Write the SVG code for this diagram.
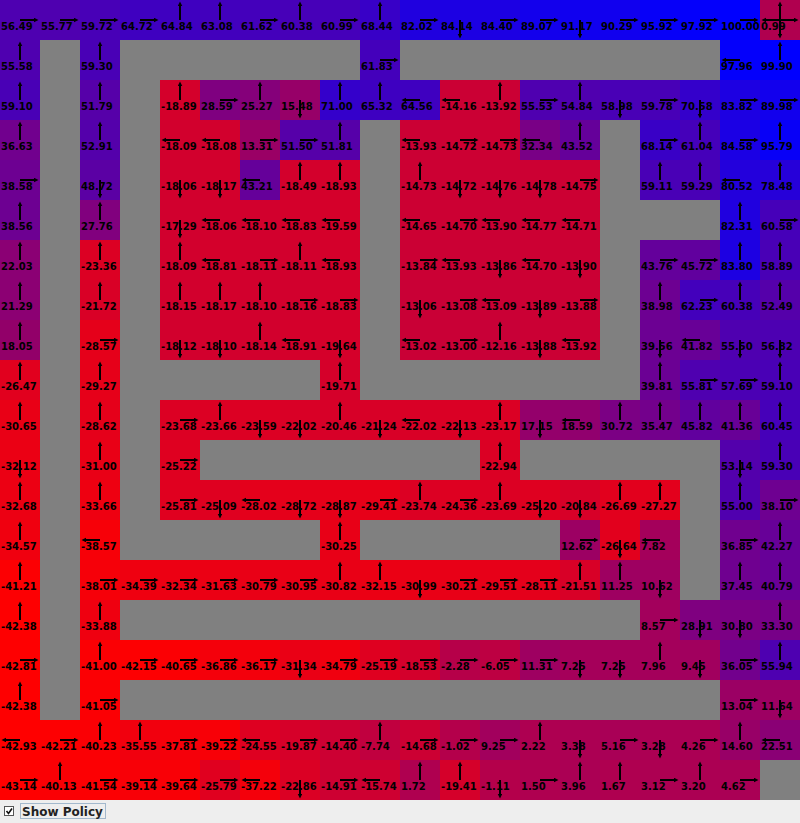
<svg xmlns="http://www.w3.org/2000/svg" width="800" height="823" viewBox="0 0 800 823">
<style>
.cells text{font-family:"DejaVu Sans","Liberation Sans",sans-serif;font-weight:bold;font-size:10px;fill:#000}
.cells rect{width:40px;height:40px}
.pol path{fill:none;stroke:#000;stroke-width:2;marker-end:url(#ah)}
.lbl{font-family:"DejaVu Sans","Liberation Sans",sans-serif;font-weight:bold;font-size:12px;fill:#222}
</style>
<defs>
<marker id="ah" markerUnits="userSpaceOnUse" markerWidth="5" markerHeight="5" refX="0" refY="2.25" orient="auto"><path d="M0,0L4.5,2.25L0,4.5z" fill="#000"/></marker>
</defs>
<rect id="walls" x="0" y="0" width="800" height="800" fill="#808080"/>
<g class="cells">
<g id="r0c0"><rect x="0" y="0" width="40" height="40" fill="#4e00b1"/><text x="1" y="30">56.49</text></g>
<g id="r0c1"><rect x="40" y="0" width="40" height="40" fill="#4f00b0"/><text x="41" y="30">55.77</text></g>
<g id="r0c2"><rect x="80" y="0" width="40" height="40" fill="#4800b7"/><text x="81" y="30">59.72</text></g>
<g id="r0c3"><rect x="120" y="0" width="40" height="40" fill="#3f00c0"/><text x="121" y="30">64.72</text></g>
<g id="r0c4"><rect x="160" y="0" width="40" height="40" fill="#3f00c0"/><text x="161" y="30">64.84</text></g>
<g id="r0c5"><rect x="200" y="0" width="40" height="40" fill="#4200bd"/><text x="201" y="30">63.08</text></g>
<g id="r0c6"><rect x="240" y="0" width="40" height="40" fill="#4400bb"/><text x="241" y="30">61.62</text></g>
<g id="r0c7"><rect x="280" y="0" width="40" height="40" fill="#4700b8"/><text x="281" y="30">60.38</text></g>
<g id="r0c8"><rect x="320" y="0" width="40" height="40" fill="#4500ba"/><text x="321" y="30">60.99</text></g>
<g id="r0c9"><rect x="360" y="0" width="40" height="40" fill="#3800c7"/><text x="361" y="30">68.44</text></g>
<g id="r0c10"><rect x="400" y="0" width="40" height="40" fill="#2000df"/><text x="401" y="30">82.02</text></g>
<g id="r0c11"><rect x="440" y="0" width="40" height="40" fill="#1c00e3"/><text x="441" y="30">84.14</text></g>
<g id="r0c12"><rect x="480" y="0" width="40" height="40" fill="#1c00e3"/><text x="481" y="30">84.40</text></g>
<g id="r0c13"><rect x="520" y="0" width="40" height="40" fill="#1300ec"/><text x="521" y="30">89.07</text></g>
<g id="r0c14"><rect x="560" y="0" width="40" height="40" fill="#1000ef"/><text x="561" y="30">91.17</text></g>
<g id="r0c15"><rect x="600" y="0" width="40" height="40" fill="#1100ee"/><text x="601" y="30">90.29</text></g>
<g id="r0c16"><rect x="640" y="0" width="40" height="40" fill="#0700f8"/><text x="641" y="30">95.92</text></g>
<g id="r0c17"><rect x="680" y="0" width="40" height="40" fill="#0400fb"/><text x="681" y="30">97.92</text></g>
<g id="r0c18"><rect x="720" y="0" width="40" height="40" fill="#0000ff"/><text x="721" y="30">100.00</text></g>
<g id="r0c19"><rect x="760" y="0" width="40" height="40" fill="#b0004f"/><text x="761" y="30">0.99</text></g>
<g id="r1c0"><rect x="0" y="40" width="40" height="40" fill="#4f00b0"/><text x="1" y="70">55.58</text></g>
<g id="r1c2"><rect x="80" y="40" width="40" height="40" fill="#4900b6"/><text x="81" y="70">59.30</text></g>
<g id="r1c9"><rect x="360" y="40" width="40" height="40" fill="#4400bb"/><text x="361" y="70">61.83</text></g>
<g id="r1c18"><rect x="720" y="40" width="40" height="40" fill="#0400fb"/><text x="721" y="70">97.96</text></g>
<g id="r1c19"><rect x="760" y="40" width="40" height="40" fill="#0000ff"/><text x="761" y="70">99.90</text></g>
<g id="r2c0"><rect x="0" y="80" width="40" height="40" fill="#4900b6"/><text x="1" y="110">59.10</text></g>
<g id="r2c2"><rect x="80" y="80" width="40" height="40" fill="#5600a9"/><text x="81" y="110">51.79</text></g>
<g id="r2c4"><rect x="160" y="80" width="40" height="40" fill="#d4002b"/><text x="161" y="110">-18.89</text></g>
<g id="r2c5"><rect x="200" y="80" width="40" height="40" fill="#7f0080"/><text x="201" y="110">28.59</text></g>
<g id="r2c6"><rect x="240" y="80" width="40" height="40" fill="#85007a"/><text x="241" y="110">25.27</text></g>
<g id="r2c7"><rect x="280" y="80" width="40" height="40" fill="#970068"/><text x="281" y="110">15.48</text></g>
<g id="r2c8"><rect x="320" y="80" width="40" height="40" fill="#3400cb"/><text x="321" y="110">71.00</text></g>
<g id="r2c9"><rect x="360" y="80" width="40" height="40" fill="#3e00c1"/><text x="361" y="110">65.32</text></g>
<g id="r2c10"><rect x="400" y="80" width="40" height="40" fill="#3f00c0"/><text x="401" y="110">64.56</text></g>
<g id="r2c11"><rect x="440" y="80" width="40" height="40" fill="#cb0034"/><text x="441" y="110">-14.16</text></g>
<g id="r2c12"><rect x="480" y="80" width="40" height="40" fill="#cb0034"/><text x="481" y="110">-13.92</text></g>
<g id="r2c13"><rect x="520" y="80" width="40" height="40" fill="#4f00b0"/><text x="521" y="110">55.53</text></g>
<g id="r2c14"><rect x="560" y="80" width="40" height="40" fill="#5000af"/><text x="561" y="110">54.84</text></g>
<g id="r2c15"><rect x="600" y="80" width="40" height="40" fill="#4900b6"/><text x="601" y="110">58.98</text></g>
<g id="r2c16"><rect x="640" y="80" width="40" height="40" fill="#4800b7"/><text x="641" y="110">59.78</text></g>
<g id="r2c17"><rect x="680" y="80" width="40" height="40" fill="#3400cb"/><text x="681" y="110">70.58</text></g>
<g id="r2c18"><rect x="720" y="80" width="40" height="40" fill="#1d00e2"/><text x="721" y="110">83.82</text></g>
<g id="r2c19"><rect x="760" y="80" width="40" height="40" fill="#1200ed"/><text x="761" y="110">89.98</text></g>
<g id="r3c0"><rect x="0" y="120" width="40" height="40" fill="#71008e"/><text x="1" y="150">36.63</text></g>
<g id="r3c2"><rect x="80" y="120" width="40" height="40" fill="#5400ab"/><text x="81" y="150">52.91</text></g>
<g id="r3c4"><rect x="160" y="120" width="40" height="40" fill="#d2002d"/><text x="161" y="150">-18.09</text></g>
<g id="r3c5"><rect x="200" y="120" width="40" height="40" fill="#d2002d"/><text x="201" y="150">-18.08</text></g>
<g id="r3c6"><rect x="240" y="120" width="40" height="40" fill="#9a0065"/><text x="241" y="150">13.31</text></g>
<g id="r3c7"><rect x="280" y="120" width="40" height="40" fill="#5600a9"/><text x="281" y="150">51.50</text></g>
<g id="r3c8"><rect x="320" y="120" width="40" height="40" fill="#5600a9"/><text x="321" y="150">51.81</text></g>
<g id="r3c10"><rect x="400" y="120" width="40" height="40" fill="#cb0034"/><text x="401" y="150">-13.93</text></g>
<g id="r3c11"><rect x="440" y="120" width="40" height="40" fill="#cc0033"/><text x="441" y="150">-14.72</text></g>
<g id="r3c12"><rect x="480" y="120" width="40" height="40" fill="#cc0033"/><text x="481" y="150">-14.73</text></g>
<g id="r3c13"><rect x="520" y="120" width="40" height="40" fill="#790086"/><text x="521" y="150">32.34</text></g>
<g id="r3c14"><rect x="560" y="120" width="40" height="40" fill="#65009a"/><text x="561" y="150">43.52</text></g>
<g id="r3c16"><rect x="640" y="120" width="40" height="40" fill="#3900c6"/><text x="641" y="150">68.14</text></g>
<g id="r3c17"><rect x="680" y="120" width="40" height="40" fill="#4500ba"/><text x="681" y="150">61.04</text></g>
<g id="r3c18"><rect x="720" y="120" width="40" height="40" fill="#1b00e4"/><text x="721" y="150">84.58</text></g>
<g id="r3c19"><rect x="760" y="120" width="40" height="40" fill="#0800f7"/><text x="761" y="150">95.79</text></g>
<g id="r4c0"><rect x="0" y="160" width="40" height="40" fill="#6d0092"/><text x="1" y="190">38.58</text></g>
<g id="r4c2"><rect x="80" y="160" width="40" height="40" fill="#5b00a4"/><text x="81" y="190">48.72</text></g>
<g id="r4c4"><rect x="160" y="160" width="40" height="40" fill="#d2002d"/><text x="161" y="190">-18.06</text></g>
<g id="r4c5"><rect x="200" y="160" width="40" height="40" fill="#d3002c"/><text x="201" y="190">-18.17</text></g>
<g id="r4c6"><rect x="240" y="160" width="40" height="40" fill="#65009a"/><text x="241" y="190">43.21</text></g>
<g id="r4c7"><rect x="280" y="160" width="40" height="40" fill="#d3002c"/><text x="281" y="190">-18.49</text></g>
<g id="r4c8"><rect x="320" y="160" width="40" height="40" fill="#d4002b"/><text x="321" y="190">-18.93</text></g>
<g id="r4c10"><rect x="400" y="160" width="40" height="40" fill="#cc0033"/><text x="401" y="190">-14.73</text></g>
<g id="r4c11"><rect x="440" y="160" width="40" height="40" fill="#cc0033"/><text x="441" y="190">-14.72</text></g>
<g id="r4c12"><rect x="480" y="160" width="40" height="40" fill="#cc0033"/><text x="481" y="190">-14.76</text></g>
<g id="r4c13"><rect x="520" y="160" width="40" height="40" fill="#cc0033"/><text x="521" y="190">-14.78</text></g>
<g id="r4c14"><rect x="560" y="160" width="40" height="40" fill="#cc0033"/><text x="561" y="190">-14.75</text></g>
<g id="r4c16"><rect x="640" y="160" width="40" height="40" fill="#4900b6"/><text x="641" y="190">59.11</text></g>
<g id="r4c17"><rect x="680" y="160" width="40" height="40" fill="#4900b6"/><text x="681" y="190">59.29</text></g>
<g id="r4c18"><rect x="720" y="160" width="40" height="40" fill="#2300dc"/><text x="721" y="190">80.52</text></g>
<g id="r4c19"><rect x="760" y="160" width="40" height="40" fill="#2600d9"/><text x="761" y="190">78.48</text></g>
<g id="r5c0"><rect x="0" y="200" width="40" height="40" fill="#6d0092"/><text x="1" y="230">38.56</text></g>
<g id="r5c2"><rect x="80" y="200" width="40" height="40" fill="#81007e"/><text x="81" y="230">27.76</text></g>
<g id="r5c4"><rect x="160" y="200" width="40" height="40" fill="#d1002e"/><text x="161" y="230">-17.29</text></g>
<g id="r5c5"><rect x="200" y="200" width="40" height="40" fill="#d2002d"/><text x="201" y="230">-18.06</text></g>
<g id="r5c6"><rect x="240" y="200" width="40" height="40" fill="#d2002d"/><text x="241" y="230">-18.10</text></g>
<g id="r5c7"><rect x="280" y="200" width="40" height="40" fill="#d4002b"/><text x="281" y="230">-18.83</text></g>
<g id="r5c8"><rect x="320" y="200" width="40" height="40" fill="#d5002a"/><text x="321" y="230">-19.59</text></g>
<g id="r5c10"><rect x="400" y="200" width="40" height="40" fill="#cc0033"/><text x="401" y="230">-14.65</text></g>
<g id="r5c11"><rect x="440" y="200" width="40" height="40" fill="#cc0033"/><text x="441" y="230">-14.70</text></g>
<g id="r5c12"><rect x="480" y="200" width="40" height="40" fill="#cb0034"/><text x="481" y="230">-13.90</text></g>
<g id="r5c13"><rect x="520" y="200" width="40" height="40" fill="#cc0033"/><text x="521" y="230">-14.77</text></g>
<g id="r5c14"><rect x="560" y="200" width="40" height="40" fill="#cc0033"/><text x="561" y="230">-14.71</text></g>
<g id="r5c18"><rect x="720" y="200" width="40" height="40" fill="#2000df"/><text x="721" y="230">82.31</text></g>
<g id="r5c19"><rect x="760" y="200" width="40" height="40" fill="#4600b9"/><text x="761" y="230">60.58</text></g>
<g id="r6c0"><rect x="0" y="240" width="40" height="40" fill="#8b0074"/><text x="1" y="270">22.03</text></g>
<g id="r6c2"><rect x="80" y="240" width="40" height="40" fill="#dc0023"/><text x="81" y="270">-23.36</text></g>
<g id="r6c4"><rect x="160" y="240" width="40" height="40" fill="#d2002d"/><text x="161" y="270">-18.09</text></g>
<g id="r6c5"><rect x="200" y="240" width="40" height="40" fill="#d4002b"/><text x="201" y="270">-18.81</text></g>
<g id="r6c6"><rect x="240" y="240" width="40" height="40" fill="#d2002d"/><text x="241" y="270">-18.11</text></g>
<g id="r6c7"><rect x="280" y="240" width="40" height="40" fill="#d2002d"/><text x="281" y="270">-18.11</text></g>
<g id="r6c8"><rect x="320" y="240" width="40" height="40" fill="#d4002b"/><text x="321" y="270">-18.93</text></g>
<g id="r6c10"><rect x="400" y="240" width="40" height="40" fill="#cb0034"/><text x="401" y="270">-13.84</text></g>
<g id="r6c11"><rect x="440" y="240" width="40" height="40" fill="#cb0034"/><text x="441" y="270">-13.93</text></g>
<g id="r6c12"><rect x="480" y="240" width="40" height="40" fill="#cb0034"/><text x="481" y="270">-13.86</text></g>
<g id="r6c13"><rect x="520" y="240" width="40" height="40" fill="#cc0033"/><text x="521" y="270">-14.70</text></g>
<g id="r6c14"><rect x="560" y="240" width="40" height="40" fill="#cb0034"/><text x="561" y="270">-13.90</text></g>
<g id="r6c16"><rect x="640" y="240" width="40" height="40" fill="#64009b"/><text x="641" y="270">43.76</text></g>
<g id="r6c17"><rect x="680" y="240" width="40" height="40" fill="#61009e"/><text x="681" y="270">45.72</text></g>
<g id="r6c18"><rect x="720" y="240" width="40" height="40" fill="#1d00e2"/><text x="721" y="270">83.80</text></g>
<g id="r6c19"><rect x="760" y="240" width="40" height="40" fill="#4900b6"/><text x="761" y="270">58.89</text></g>
<g id="r7c0"><rect x="0" y="280" width="40" height="40" fill="#8c0073"/><text x="1" y="310">21.29</text></g>
<g id="r7c2"><rect x="80" y="280" width="40" height="40" fill="#d90026"/><text x="81" y="310">-21.72</text></g>
<g id="r7c4"><rect x="160" y="280" width="40" height="40" fill="#d2002d"/><text x="161" y="310">-18.15</text></g>
<g id="r7c5"><rect x="200" y="280" width="40" height="40" fill="#d3002c"/><text x="201" y="310">-18.17</text></g>
<g id="r7c6"><rect x="240" y="280" width="40" height="40" fill="#d2002d"/><text x="241" y="310">-18.10</text></g>
<g id="r7c7"><rect x="280" y="280" width="40" height="40" fill="#d2002d"/><text x="281" y="310">-18.16</text></g>
<g id="r7c8"><rect x="320" y="280" width="40" height="40" fill="#d4002b"/><text x="321" y="310">-18.83</text></g>
<g id="r7c10"><rect x="400" y="280" width="40" height="40" fill="#c90036"/><text x="401" y="310">-13.06</text></g>
<g id="r7c11"><rect x="440" y="280" width="40" height="40" fill="#c90036"/><text x="441" y="310">-13.08</text></g>
<g id="r7c12"><rect x="480" y="280" width="40" height="40" fill="#ca0035"/><text x="481" y="310">-13.09</text></g>
<g id="r7c13"><rect x="520" y="280" width="40" height="40" fill="#cb0034"/><text x="521" y="310">-13.89</text></g>
<g id="r7c14"><rect x="560" y="280" width="40" height="40" fill="#cb0034"/><text x="561" y="310">-13.88</text></g>
<g id="r7c16"><rect x="640" y="280" width="40" height="40" fill="#6d0092"/><text x="641" y="310">38.98</text></g>
<g id="r7c17"><rect x="680" y="280" width="40" height="40" fill="#4300bc"/><text x="681" y="310">62.23</text></g>
<g id="r7c18"><rect x="720" y="280" width="40" height="40" fill="#4700b8"/><text x="721" y="310">60.38</text></g>
<g id="r7c19"><rect x="760" y="280" width="40" height="40" fill="#5500aa"/><text x="761" y="310">52.49</text></g>
<g id="r8c0"><rect x="0" y="320" width="40" height="40" fill="#920069"/><text x="1" y="350">18.05</text></g>
<g id="r8c2"><rect x="80" y="320" width="40" height="40" fill="#e5001a"/><text x="81" y="350">-28.57</text></g>
<g id="r8c4"><rect x="160" y="320" width="40" height="40" fill="#d2002d"/><text x="161" y="350">-18.12</text></g>
<g id="r8c5"><rect x="200" y="320" width="40" height="40" fill="#d2002d"/><text x="201" y="350">-18.10</text></g>
<g id="r8c6"><rect x="240" y="320" width="40" height="40" fill="#d2002d"/><text x="241" y="350">-18.14</text></g>
<g id="r8c7"><rect x="280" y="320" width="40" height="40" fill="#d4002b"/><text x="281" y="350">-18.91</text></g>
<g id="r8c8"><rect x="320" y="320" width="40" height="40" fill="#d5002a"/><text x="321" y="350">-19.64</text></g>
<g id="r8c10"><rect x="400" y="320" width="40" height="40" fill="#c90036"/><text x="401" y="350">-13.02</text></g>
<g id="r8c11"><rect x="440" y="320" width="40" height="40" fill="#c90036"/><text x="441" y="350">-13.00</text></g>
<g id="r8c12"><rect x="480" y="320" width="40" height="40" fill="#c80037"/><text x="481" y="350">-12.16</text></g>
<g id="r8c13"><rect x="520" y="320" width="40" height="40" fill="#cb0034"/><text x="521" y="350">-13.88</text></g>
<g id="r8c14"><rect x="560" y="320" width="40" height="40" fill="#cb0034"/><text x="561" y="350">-13.92</text></g>
<g id="r8c16"><rect x="640" y="320" width="40" height="40" fill="#6c0093"/><text x="641" y="350">39.56</text></g>
<g id="r8c17"><rect x="680" y="320" width="40" height="40" fill="#680097"/><text x="681" y="350">41.82</text></g>
<g id="r8c18"><rect x="720" y="320" width="40" height="40" fill="#4f00b0"/><text x="721" y="350">55.50</text></g>
<g id="r8c19"><rect x="760" y="320" width="40" height="40" fill="#4d00b2"/><text x="761" y="350">56.82</text></g>
<g id="r9c0"><rect x="0" y="360" width="40" height="40" fill="#e1001e"/><text x="1" y="390">-26.47</text></g>
<g id="r9c2"><rect x="80" y="360" width="40" height="40" fill="#e60019"/><text x="81" y="390">-29.27</text></g>
<g id="r9c8"><rect x="320" y="360" width="40" height="40" fill="#d5002a"/><text x="321" y="390">-19.71</text></g>
<g id="r9c16"><rect x="640" y="360" width="40" height="40" fill="#6b0094"/><text x="641" y="390">39.81</text></g>
<g id="r9c17"><rect x="680" y="360" width="40" height="40" fill="#4f00b0"/><text x="681" y="390">55.81</text></g>
<g id="r9c18"><rect x="720" y="360" width="40" height="40" fill="#4b00b4"/><text x="721" y="390">57.69</text></g>
<g id="r9c19"><rect x="760" y="360" width="40" height="40" fill="#4900b6"/><text x="761" y="390">59.10</text></g>
<g id="r10c0"><rect x="0" y="400" width="40" height="40" fill="#e90016"/><text x="1" y="430">-30.65</text></g>
<g id="r10c2"><rect x="80" y="400" width="40" height="40" fill="#e5001a"/><text x="81" y="430">-28.62</text></g>
<g id="r10c4"><rect x="160" y="400" width="40" height="40" fill="#dc0023"/><text x="161" y="430">-23.68</text></g>
<g id="r10c5"><rect x="200" y="400" width="40" height="40" fill="#dc0023"/><text x="201" y="430">-23.66</text></g>
<g id="r10c6"><rect x="240" y="400" width="40" height="40" fill="#dc0023"/><text x="241" y="430">-23.59</text></g>
<g id="r10c7"><rect x="280" y="400" width="40" height="40" fill="#d90026"/><text x="281" y="430">-22.02</text></g>
<g id="r10c8"><rect x="320" y="400" width="40" height="40" fill="#d70028"/><text x="321" y="430">-20.46</text></g>
<g id="r10c9"><rect x="360" y="400" width="40" height="40" fill="#d80027"/><text x="361" y="430">-21.24</text></g>
<g id="r10c10"><rect x="400" y="400" width="40" height="40" fill="#d90026"/><text x="401" y="430">-22.02</text></g>
<g id="r10c11"><rect x="440" y="400" width="40" height="40" fill="#da0025"/><text x="441" y="430">-22.13</text></g>
<g id="r10c12"><rect x="480" y="400" width="40" height="40" fill="#db0024"/><text x="481" y="430">-23.17</text></g>
<g id="r10c13"><rect x="520" y="400" width="40" height="40" fill="#94006b"/><text x="521" y="430">17.15</text></g>
<g id="r10c14"><rect x="560" y="400" width="40" height="40" fill="#91006e"/><text x="561" y="430">18.59</text></g>
<g id="r10c15"><rect x="600" y="400" width="40" height="40" fill="#7b0084"/><text x="601" y="430">30.72</text></g>
<g id="r10c16"><rect x="640" y="400" width="40" height="40" fill="#73008c"/><text x="641" y="430">35.47</text></g>
<g id="r10c17"><rect x="680" y="400" width="40" height="40" fill="#61009e"/><text x="681" y="430">45.82</text></g>
<g id="r10c18"><rect x="720" y="400" width="40" height="40" fill="#680097"/><text x="721" y="430">41.36</text></g>
<g id="r10c19"><rect x="760" y="400" width="40" height="40" fill="#4600b9"/><text x="761" y="430">60.45</text></g>
<g id="r11c0"><rect x="0" y="440" width="40" height="40" fill="#eb0014"/><text x="1" y="470">-32.12</text></g>
<g id="r11c2"><rect x="80" y="440" width="40" height="40" fill="#e90016"/><text x="81" y="470">-31.00</text></g>
<g id="r11c4"><rect x="160" y="440" width="40" height="40" fill="#df0020"/><text x="161" y="470">-25.22</text></g>
<g id="r11c12"><rect x="480" y="440" width="40" height="40" fill="#db0024"/><text x="481" y="470">-22.94</text></g>
<g id="r11c18"><rect x="720" y="440" width="40" height="40" fill="#5300ac"/><text x="721" y="470">53.14</text></g>
<g id="r11c19"><rect x="760" y="440" width="40" height="40" fill="#4900b6"/><text x="761" y="470">59.30</text></g>
<g id="r12c0"><rect x="0" y="480" width="40" height="40" fill="#ec0013"/><text x="1" y="510">-32.68</text></g>
<g id="r12c2"><rect x="80" y="480" width="40" height="40" fill="#ee0011"/><text x="81" y="510">-33.66</text></g>
<g id="r12c4"><rect x="160" y="480" width="40" height="40" fill="#e0001f"/><text x="161" y="510">-25.81</text></g>
<g id="r12c5"><rect x="200" y="480" width="40" height="40" fill="#df0020"/><text x="201" y="510">-25.09</text></g>
<g id="r12c6"><rect x="240" y="480" width="40" height="40" fill="#e4001b"/><text x="241" y="510">-28.02</text></g>
<g id="r12c7"><rect x="280" y="480" width="40" height="40" fill="#e5001a"/><text x="281" y="510">-28.72</text></g>
<g id="r12c8"><rect x="320" y="480" width="40" height="40" fill="#e60019"/><text x="321" y="510">-28.87</text></g>
<g id="r12c9"><rect x="360" y="480" width="40" height="40" fill="#e70018"/><text x="361" y="510">-29.41</text></g>
<g id="r12c10"><rect x="400" y="480" width="40" height="40" fill="#dc0023"/><text x="401" y="510">-23.74</text></g>
<g id="r12c11"><rect x="440" y="480" width="40" height="40" fill="#de0021"/><text x="441" y="510">-24.36</text></g>
<g id="r12c12"><rect x="480" y="480" width="40" height="40" fill="#dc0023"/><text x="481" y="510">-23.69</text></g>
<g id="r12c13"><rect x="520" y="480" width="40" height="40" fill="#df0020"/><text x="521" y="510">-25.20</text></g>
<g id="r12c14"><rect x="560" y="480" width="40" height="40" fill="#d70028"/><text x="561" y="510">-20.84</text></g>
<g id="r12c15"><rect x="600" y="480" width="40" height="40" fill="#e2001d"/><text x="601" y="510">-26.69</text></g>
<g id="r12c16"><rect x="640" y="480" width="40" height="40" fill="#e3001c"/><text x="641" y="510">-27.27</text></g>
<g id="r12c18"><rect x="720" y="480" width="40" height="40" fill="#5000af"/><text x="721" y="510">55.00</text></g>
<g id="r12c19"><rect x="760" y="480" width="40" height="40" fill="#6e0091"/><text x="761" y="510">38.10</text></g>
<g id="r13c0"><rect x="0" y="520" width="40" height="40" fill="#f0000f"/><text x="1" y="550">-34.57</text></g>
<g id="r13c2"><rect x="80" y="520" width="40" height="40" fill="#f70008"/><text x="81" y="550">-38.57</text></g>
<g id="r13c8"><rect x="320" y="520" width="40" height="40" fill="#e80017"/><text x="321" y="550">-30.25</text></g>
<g id="r13c14"><rect x="560" y="520" width="40" height="40" fill="#9c0063"/><text x="561" y="550">12.62</text></g>
<g id="r13c15"><rect x="600" y="520" width="40" height="40" fill="#e2001d"/><text x="601" y="550">-26.64</text></g>
<g id="r13c16"><rect x="640" y="520" width="40" height="40" fill="#a4005b"/><text x="641" y="550">7.82</text></g>
<g id="r13c18"><rect x="720" y="520" width="40" height="40" fill="#70008f"/><text x="721" y="550">36.85</text></g>
<g id="r13c19"><rect x="760" y="520" width="40" height="40" fill="#670098"/><text x="761" y="550">42.27</text></g>
<g id="r14c0"><rect x="0" y="560" width="40" height="40" fill="#fc0003"/><text x="1" y="590">-41.21</text></g>
<g id="r14c2"><rect x="80" y="560" width="40" height="40" fill="#f60009"/><text x="81" y="590">-38.01</text></g>
<g id="r14c3"><rect x="120" y="560" width="40" height="40" fill="#ef0010"/><text x="121" y="590">-34.39</text></g>
<g id="r14c4"><rect x="160" y="560" width="40" height="40" fill="#ec0013"/><text x="161" y="590">-32.34</text></g>
<g id="r14c5"><rect x="200" y="560" width="40" height="40" fill="#eb0014"/><text x="201" y="590">-31.63</text></g>
<g id="r14c6"><rect x="240" y="560" width="40" height="40" fill="#e90016"/><text x="241" y="590">-30.79</text></g>
<g id="r14c7"><rect x="280" y="560" width="40" height="40" fill="#e90016"/><text x="281" y="590">-30.95</text></g>
<g id="r14c8"><rect x="320" y="560" width="40" height="40" fill="#e90016"/><text x="321" y="590">-30.82</text></g>
<g id="r14c9"><rect x="360" y="560" width="40" height="40" fill="#eb0014"/><text x="361" y="590">-32.15</text></g>
<g id="r14c10"><rect x="400" y="560" width="40" height="40" fill="#e90016"/><text x="401" y="590">-30.99</text></g>
<g id="r14c11"><rect x="440" y="560" width="40" height="40" fill="#e80017"/><text x="441" y="590">-30.21</text></g>
<g id="r14c12"><rect x="480" y="560" width="40" height="40" fill="#e70018"/><text x="481" y="590">-29.51</text></g>
<g id="r14c13"><rect x="520" y="560" width="40" height="40" fill="#e4001b"/><text x="521" y="590">-28.11</text></g>
<g id="r14c14"><rect x="560" y="560" width="40" height="40" fill="#d80027"/><text x="561" y="590">-21.51</text></g>
<g id="r14c15"><rect x="600" y="560" width="40" height="40" fill="#9e0061"/><text x="601" y="590">11.25</text></g>
<g id="r14c16"><rect x="640" y="560" width="40" height="40" fill="#9f0060"/><text x="641" y="590">10.62</text></g>
<g id="r14c18"><rect x="720" y="560" width="40" height="40" fill="#6f0090"/><text x="721" y="590">37.45</text></g>
<g id="r14c19"><rect x="760" y="560" width="40" height="40" fill="#690096"/><text x="761" y="590">40.79</text></g>
<g id="r15c0"><rect x="0" y="600" width="40" height="40" fill="#fe0001"/><text x="1" y="630">-42.38</text></g>
<g id="r15c2"><rect x="80" y="600" width="40" height="40" fill="#ef0010"/><text x="81" y="630">-33.88</text></g>
<g id="r15c16"><rect x="640" y="600" width="40" height="40" fill="#a3005c"/><text x="641" y="630">8.57</text></g>
<g id="r15c17"><rect x="680" y="600" width="40" height="40" fill="#7f0080"/><text x="681" y="630">28.91</text></g>
<g id="r15c18"><rect x="720" y="600" width="40" height="40" fill="#7b0084"/><text x="721" y="630">30.80</text></g>
<g id="r15c19"><rect x="760" y="600" width="40" height="40" fill="#770088"/><text x="761" y="630">33.30</text></g>
<g id="r16c0"><rect x="0" y="640" width="40" height="40" fill="#fe0001"/><text x="1" y="670">-42.81</text></g>
<g id="r16c2"><rect x="80" y="640" width="40" height="40" fill="#fb0004"/><text x="81" y="670">-41.00</text></g>
<g id="r16c3"><rect x="120" y="640" width="40" height="40" fill="#fd0002"/><text x="121" y="670">-42.15</text></g>
<g id="r16c4"><rect x="160" y="640" width="40" height="40" fill="#fb0004"/><text x="161" y="670">-40.65</text></g>
<g id="r16c5"><rect x="200" y="640" width="40" height="40" fill="#f4000b"/><text x="201" y="670">-36.86</text></g>
<g id="r16c6"><rect x="240" y="640" width="40" height="40" fill="#f3000c"/><text x="241" y="670">-36.17</text></g>
<g id="r16c7"><rect x="280" y="640" width="40" height="40" fill="#ea0015"/><text x="281" y="670">-31.34</text></g>
<g id="r16c8"><rect x="320" y="640" width="40" height="40" fill="#f0000f"/><text x="321" y="670">-34.79</text></g>
<g id="r16c9"><rect x="360" y="640" width="40" height="40" fill="#df0020"/><text x="361" y="670">-25.19</text></g>
<g id="r16c10"><rect x="400" y="640" width="40" height="40" fill="#d3002c"/><text x="401" y="670">-18.53</text></g>
<g id="r16c11"><rect x="440" y="640" width="40" height="40" fill="#b60049"/><text x="441" y="670">-2.28</text></g>
<g id="r16c12"><rect x="480" y="640" width="40" height="40" fill="#bd0042"/><text x="481" y="670">-6.05</text></g>
<g id="r16c13"><rect x="520" y="640" width="40" height="40" fill="#9e0061"/><text x="521" y="670">11.31</text></g>
<g id="r16c14"><rect x="560" y="640" width="40" height="40" fill="#a5005a"/><text x="561" y="670">7.25</text></g>
<g id="r16c15"><rect x="600" y="640" width="40" height="40" fill="#a5005a"/><text x="601" y="670">7.25</text></g>
<g id="r16c16"><rect x="640" y="640" width="40" height="40" fill="#a4005b"/><text x="641" y="670">7.96</text></g>
<g id="r16c17"><rect x="680" y="640" width="40" height="40" fill="#a1005e"/><text x="681" y="670">9.45</text></g>
<g id="r16c18"><rect x="720" y="640" width="40" height="40" fill="#72008d"/><text x="721" y="670">36.05</text></g>
<g id="r16c19"><rect x="760" y="640" width="40" height="40" fill="#4e00b1"/><text x="761" y="670">55.94</text></g>
<g id="r17c0"><rect x="0" y="680" width="40" height="40" fill="#fe0001"/><text x="1" y="710">-42.38</text></g>
<g id="r17c2"><rect x="80" y="680" width="40" height="40" fill="#fb0004"/><text x="81" y="710">-41.05</text></g>
<g id="r17c18"><rect x="720" y="680" width="40" height="40" fill="#9b0064"/><text x="721" y="710">13.04</text></g>
<g id="r17c19"><rect x="760" y="680" width="40" height="40" fill="#9d0062"/><text x="761" y="710">11.64</text></g>
<g id="r18c0"><rect x="0" y="720" width="40" height="40" fill="#ff0000"/><text x="1" y="750">-42.93</text></g>
<g id="r18c1"><rect x="40" y="720" width="40" height="40" fill="#fd0002"/><text x="41" y="750">-42.21</text></g>
<g id="r18c2"><rect x="80" y="720" width="40" height="40" fill="#fa0005"/><text x="81" y="750">-40.23</text></g>
<g id="r18c3"><rect x="120" y="720" width="40" height="40" fill="#f1000e"/><text x="121" y="750">-35.55</text></g>
<g id="r18c4"><rect x="160" y="720" width="40" height="40" fill="#f5000a"/><text x="161" y="750">-37.81</text></g>
<g id="r18c5"><rect x="200" y="720" width="40" height="40" fill="#f80007"/><text x="201" y="750">-39.22</text></g>
<g id="r18c6"><rect x="240" y="720" width="40" height="40" fill="#de0021"/><text x="241" y="750">-24.55</text></g>
<g id="r18c7"><rect x="280" y="720" width="40" height="40" fill="#d60029"/><text x="281" y="750">-19.87</text></g>
<g id="r18c8"><rect x="320" y="720" width="40" height="40" fill="#cc0033"/><text x="321" y="750">-14.40</text></g>
<g id="r18c9"><rect x="360" y="720" width="40" height="40" fill="#c0003f"/><text x="361" y="750">-7.74</text></g>
<g id="r18c10"><rect x="400" y="720" width="40" height="40" fill="#cc0033"/><text x="401" y="750">-14.68</text></g>
<g id="r18c11"><rect x="440" y="720" width="40" height="40" fill="#b4004b"/><text x="441" y="750">-1.02</text></g>
<g id="r18c12"><rect x="480" y="720" width="40" height="40" fill="#a2005d"/><text x="481" y="750">9.25</text></g>
<g id="r18c13"><rect x="520" y="720" width="40" height="40" fill="#ae0051"/><text x="521" y="750">2.22</text></g>
<g id="r18c14"><rect x="560" y="720" width="40" height="40" fill="#ac0053"/><text x="561" y="750">3.38</text></g>
<g id="r18c15"><rect x="600" y="720" width="40" height="40" fill="#a90056"/><text x="601" y="750">5.16</text></g>
<g id="r18c16"><rect x="640" y="720" width="40" height="40" fill="#ac0053"/><text x="641" y="750">3.28</text></g>
<g id="r18c17"><rect x="680" y="720" width="40" height="40" fill="#ab0054"/><text x="681" y="750">4.26</text></g>
<g id="r18c18"><rect x="720" y="720" width="40" height="40" fill="#980067"/><text x="721" y="750">14.60</text></g>
<g id="r18c19"><rect x="760" y="720" width="40" height="40" fill="#8a0075"/><text x="761" y="750">22.51</text></g>
<g id="r19c0"><rect x="0" y="760" width="40" height="40" fill="#ff0000"/><text x="1" y="790">-43.14</text></g>
<g id="r19c1"><rect x="40" y="760" width="40" height="40" fill="#fa0005"/><text x="41" y="790">-40.13</text></g>
<g id="r19c2"><rect x="80" y="760" width="40" height="40" fill="#fc0003"/><text x="81" y="790">-41.54</text></g>
<g id="r19c3"><rect x="120" y="760" width="40" height="40" fill="#f80007"/><text x="121" y="790">-39.14</text></g>
<g id="r19c4"><rect x="160" y="760" width="40" height="40" fill="#f90006"/><text x="161" y="790">-39.64</text></g>
<g id="r19c5"><rect x="200" y="760" width="40" height="40" fill="#e0001f"/><text x="201" y="790">-25.79</text></g>
<g id="r19c6"><rect x="240" y="760" width="40" height="40" fill="#f4000b"/><text x="241" y="790">-37.22</text></g>
<g id="r19c7"><rect x="280" y="760" width="40" height="40" fill="#db0024"/><text x="281" y="790">-22.86</text></g>
<g id="r19c8"><rect x="320" y="760" width="40" height="40" fill="#cd0032"/><text x="321" y="790">-14.91</text></g>
<g id="r19c9"><rect x="360" y="760" width="40" height="40" fill="#ce0031"/><text x="361" y="790">-15.74</text></g>
<g id="r19c10"><rect x="400" y="760" width="40" height="40" fill="#af0050"/><text x="401" y="790">1.72</text></g>
<g id="r19c11"><rect x="440" y="760" width="40" height="40" fill="#d5002a"/><text x="441" y="790">-19.41</text></g>
<g id="r19c12"><rect x="480" y="760" width="40" height="40" fill="#b4004b"/><text x="481" y="790">-1.11</text></g>
<g id="r19c13"><rect x="520" y="760" width="40" height="40" fill="#af0050"/><text x="521" y="790">1.50</text></g>
<g id="r19c14"><rect x="560" y="760" width="40" height="40" fill="#ab0054"/><text x="561" y="790">3.96</text></g>
<g id="r19c15"><rect x="600" y="760" width="40" height="40" fill="#af0050"/><text x="601" y="790">1.67</text></g>
<g id="r19c16"><rect x="640" y="760" width="40" height="40" fill="#ad0052"/><text x="641" y="790">3.12</text></g>
<g id="r19c17"><rect x="680" y="760" width="40" height="40" fill="#ac0053"/><text x="681" y="790">3.20</text></g>
<g id="r19c18"><rect x="720" y="760" width="40" height="40" fill="#aa0055"/><text x="721" y="790">4.62</text></g>
</g>
<g id="policy" class="pol">
<path d="M20 20h14"/><path d="M60 20h14"/><path d="M100 20h14"/><path d="M140 20h14"/><path d="M180 20v-14"/><path d="M220 20v-14"/><path d="M260 20h14"/><path d="M300 20v-14"/><path d="M340 20h14"/><path d="M380 20v-14"/><path d="M420 20h14"/><path d="M460 20v14"/><path d="M500 20h14"/><path d="M540 20h14"/><path d="M580 20v14"/><path d="M620 20h14"/><path d="M660 20h14"/><path d="M700 20h14"/><path d="M740 20h14"/><path d="M780 20h14"/><path d="M780 20h-14"/><path d="M780 20v-14"/><path d="M780 20v14"/>
<path d="M20 60v-14"/><path d="M100 60v-14"/><path d="M380 60h14"/><path d="M740 60h-14"/><path d="M780 60v-14"/>
<path d="M20 100v-14"/><path d="M100 100v-14"/><path d="M180 100v-14"/><path d="M220 100h14"/><path d="M260 100v-14"/><path d="M300 100v14"/><path d="M340 100v-14"/><path d="M380 100v-14"/><path d="M420 100h-14"/><path d="M460 100h-14"/><path d="M500 100v-14"/><path d="M540 100h14"/><path d="M580 100v-14"/><path d="M620 100v14"/><path d="M660 100h14"/><path d="M700 100v14"/><path d="M740 100h14"/><path d="M780 100h14"/>
<path d="M20 140v-14"/><path d="M100 140v-14"/><path d="M180 140h-14"/><path d="M220 140h-14"/><path d="M260 140h14"/><path d="M300 140h14"/><path d="M340 140v-14"/><path d="M420 140h-14"/><path d="M460 140h14"/><path d="M500 140h14"/><path d="M540 140h-14"/><path d="M580 140v-14"/><path d="M660 140h14"/><path d="M700 140v-14"/><path d="M740 140h14"/><path d="M780 140v-14"/>
<path d="M20 180h14"/><path d="M100 180v14"/><path d="M180 180v14"/><path d="M220 180v14"/><path d="M260 180h-14"/><path d="M300 180v-14"/><path d="M340 180v-14"/><path d="M420 180v-14"/><path d="M460 180v14"/><path d="M500 180v14"/><path d="M540 180v14"/><path d="M580 180h14"/><path d="M660 180v-14"/><path d="M700 180v-14"/><path d="M740 180h-14"/><path d="M780 180v-14"/>
<path d="M20 220v-14"/><path d="M100 220v-14"/><path d="M180 220v14"/><path d="M220 220h-14"/><path d="M260 220h-14"/><path d="M300 220h-14"/><path d="M340 220h-14"/><path d="M420 220h-14"/><path d="M460 220h14"/><path d="M500 220h-14"/><path d="M540 220h-14"/><path d="M580 220h-14"/><path d="M740 220v-14"/><path d="M780 220h14"/>
<path d="M20 260v-14"/><path d="M100 260v-14"/><path d="M180 260v-14"/><path d="M220 260h-14"/><path d="M260 260h14"/><path d="M300 260v-14"/><path d="M340 260h-14"/><path d="M420 260h14"/><path d="M460 260h-14"/><path d="M500 260v14"/><path d="M540 260h-14"/><path d="M580 260v14"/><path d="M660 260h14"/><path d="M700 260h14"/><path d="M740 260v-14"/><path d="M780 260v-14"/>
<path d="M20 300v-14"/><path d="M100 300v-14"/><path d="M180 300v-14"/><path d="M220 300v-14"/><path d="M260 300v-14"/><path d="M300 300h14"/><path d="M340 300h14"/><path d="M420 300v14"/><path d="M460 300h14"/><path d="M500 300h-14"/><path d="M540 300v14"/><path d="M580 300h14"/><path d="M660 300v-14"/><path d="M700 300h14"/><path d="M740 300v-14"/><path d="M780 300v-14"/>
<path d="M20 340v-14"/><path d="M100 340h14"/><path d="M180 340v14"/><path d="M220 340v14"/><path d="M260 340v-14"/><path d="M300 340h-14"/><path d="M340 340v14"/><path d="M420 340h-14"/><path d="M460 340h14"/><path d="M500 340v-14"/><path d="M540 340v14"/><path d="M580 340h-14"/><path d="M660 340v14"/><path d="M700 340h-14"/><path d="M740 340v14"/><path d="M780 340v14"/>
<path d="M20 380v-14"/><path d="M100 380v-14"/><path d="M340 380v-14"/><path d="M660 380v-14"/><path d="M700 380h14"/><path d="M740 380h14"/><path d="M780 380v-14"/>
<path d="M20 420v-14"/><path d="M100 420v-14"/><path d="M180 420h14"/><path d="M220 420v-14"/><path d="M260 420v14"/><path d="M300 420v14"/><path d="M340 420v-14"/><path d="M380 420v14"/><path d="M420 420h-14"/><path d="M460 420v14"/><path d="M500 420v-14"/><path d="M540 420v14"/><path d="M580 420h-14"/><path d="M620 420v-14"/><path d="M660 420v-14"/><path d="M700 420v-14"/><path d="M740 420v-14"/><path d="M780 420v-14"/>
<path d="M20 460v14"/><path d="M100 460v-14"/><path d="M180 460h14"/><path d="M500 460v-14"/><path d="M740 460v14"/><path d="M780 460v-14"/>
<path d="M20 500v-14"/><path d="M100 500v-14"/><path d="M180 500h14"/><path d="M220 500v14"/><path d="M260 500h-14"/><path d="M300 500v14"/><path d="M340 500v14"/><path d="M380 500h14"/><path d="M420 500v-14"/><path d="M460 500h14"/><path d="M500 500v-14"/><path d="M540 500v14"/><path d="M580 500v14"/><path d="M620 500v-14"/><path d="M660 500v-14"/><path d="M740 500v-14"/><path d="M780 500h14"/>
<path d="M20 540v-14"/><path d="M100 540h-14"/><path d="M340 540v-14"/><path d="M580 540h14"/><path d="M620 540v14"/><path d="M660 540h-14"/><path d="M740 540h14"/><path d="M780 540v-14"/>
<path d="M20 580v-14"/><path d="M100 580h14"/><path d="M140 580h14"/><path d="M180 580h14"/><path d="M220 580h14"/><path d="M260 580h14"/><path d="M300 580h14"/><path d="M340 580v-14"/><path d="M380 580v-14"/><path d="M420 580v14"/><path d="M460 580h14"/><path d="M500 580h14"/><path d="M540 580h14"/><path d="M580 580v-14"/><path d="M620 580v-14"/><path d="M660 580v14"/><path d="M740 580v-14"/><path d="M780 580v-14"/>
<path d="M20 620v-14"/><path d="M100 620v-14"/><path d="M660 620h14"/><path d="M700 620v14"/><path d="M740 620v14"/><path d="M780 620v-14"/>
<path d="M20 660h14"/><path d="M100 660v-14"/><path d="M140 660h14"/><path d="M180 660h14"/><path d="M220 660h14"/><path d="M260 660h14"/><path d="M300 660v14"/><path d="M340 660h14"/><path d="M380 660h14"/><path d="M420 660h14"/><path d="M460 660h14"/><path d="M500 660h14"/><path d="M540 660h14"/><path d="M580 660v14"/><path d="M620 660v14"/><path d="M660 660v-14"/><path d="M700 660v14"/><path d="M740 660h14"/><path d="M780 660v-14"/>
<path d="M20 700v-14"/><path d="M100 700h14"/><path d="M740 700h14"/><path d="M780 700v14"/>
<path d="M20 740h-14"/><path d="M60 740h14"/><path d="M100 740v-14"/><path d="M140 740v-14"/><path d="M180 740h14"/><path d="M220 740h14"/><path d="M260 740h-14"/><path d="M300 740h14"/><path d="M340 740h14"/><path d="M380 740v-14"/><path d="M420 740h14"/><path d="M460 740h14"/><path d="M500 740h14"/><path d="M540 740v-14"/><path d="M580 740v14"/><path d="M620 740h14"/><path d="M660 740v14"/><path d="M700 740h14"/><path d="M740 740v-14"/><path d="M780 740h-14"/>
<path d="M20 780h14"/><path d="M60 780v-14"/><path d="M100 780h14"/><path d="M140 780h14"/><path d="M180 780h14"/><path d="M220 780h14"/><path d="M260 780h-14"/><path d="M300 780v14"/><path d="M340 780h14"/><path d="M380 780h-14"/><path d="M420 780v-14"/><path d="M460 780v-14"/><path d="M500 780v14"/><path d="M540 780h14"/><path d="M580 780v-14"/><path d="M620 780v-14"/><path d="M660 780h14"/><path d="M700 780v-14"/><path d="M740 780h14"/>
</g>
<g id="controls">
<rect x="0" y="800" width="800" height="23" fill="#eeeeee"/>
<g id="showPolicy">
<rect x="4.5" y="806.5" width="9" height="9" fill="#ffffff" stroke="#555555"/>
<path d="M6.5 811l2 2.5l3.5-5" fill="none" stroke="#111111" stroke-width="1.6"/>
<rect x="20.5" y="803.5" width="85" height="15" fill="none" stroke="#a3b8cc"/>
<text class="lbl" x="22" y="816">Show Policy</text>
</g>
</g>
</svg>
